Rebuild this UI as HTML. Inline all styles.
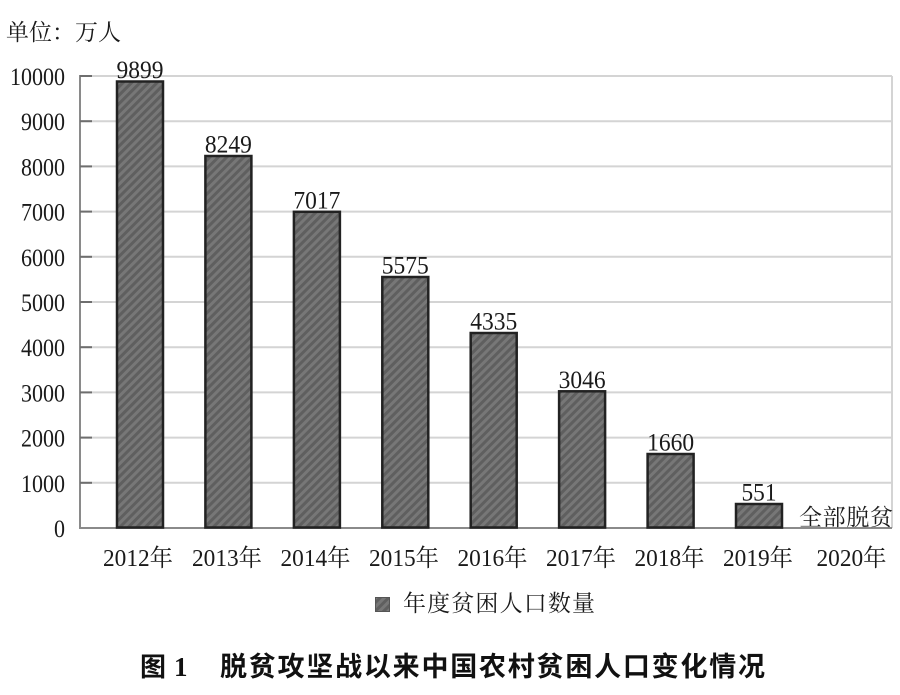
<!DOCTYPE html>
<html><head><meta charset="utf-8"><style>
html,body{margin:0;padding:0;background:#fff;width:900px;height:695px;overflow:hidden}
svg{display:block}
.s{font-family:"Liberation Serif","Noto Serif CJK SC",serif;fill:#1a1a1a}
.c{font-family:"Noto Serif CJK SC",serif;fill:#1a1a1a}
.h{font-family:"Liberation Sans","Noto Sans CJK SC",sans-serif;font-weight:bold;fill:#111}
</style></head><body>
<svg width="900" height="695" viewBox="0 0 900 695" xmlns="http://www.w3.org/2000/svg">
<defs>
<pattern id="st" patternUnits="userSpaceOnUse" width="6" height="6" patternTransform="rotate(45)">
<rect width="6" height="6" fill="#777"/>
<rect width="3" height="6" fill="#5f5f5f"/>
</pattern>
</defs>
<rect width="900" height="695" fill="#fff"/>
<text class="c" x="6" y="40" font-size="23">单位：万人</text>
<g stroke="#d4d4d4" stroke-width="2">
<line x1="80" y1="76" x2="892" y2="76"/>
<line x1="80" y1="121.2" x2="892" y2="121.2"/>
<line x1="80" y1="166.4" x2="892" y2="166.4"/>
<line x1="80" y1="211.6" x2="892" y2="211.6"/>
<line x1="80" y1="256.8" x2="892" y2="256.8"/>
<line x1="80" y1="302" x2="892" y2="302"/>
<line x1="80" y1="347.2" x2="892" y2="347.2"/>
<line x1="80" y1="392.4" x2="892" y2="392.4"/>
<line x1="80" y1="437.6" x2="892" y2="437.6"/>
<line x1="80" y1="482.8" x2="892" y2="482.8"/>
<line x1="892" y1="76" x2="892" y2="528"/>
</g>
<g stroke="#8a8a8a" stroke-width="2">
<line x1="80" y1="75" x2="80" y2="529"/>
<line x1="80" y1="528" x2="892" y2="528"/>
</g>
<g stroke="#6e6e6e" stroke-width="2">
<line x1="80" y1="76" x2="92" y2="76"/>
<line x1="80" y1="121.2" x2="92" y2="121.2"/>
<line x1="80" y1="166.4" x2="92" y2="166.4"/>
<line x1="80" y1="211.6" x2="92" y2="211.6"/>
<line x1="80" y1="256.8" x2="92" y2="256.8"/>
<line x1="80" y1="302" x2="92" y2="302"/>
<line x1="80" y1="347.2" x2="92" y2="347.2"/>
<line x1="80" y1="392.4" x2="92" y2="392.4"/>
<line x1="80" y1="437.6" x2="92" y2="437.6"/>
<line x1="80" y1="482.8" x2="92" y2="482.8"/>
</g>
<g class="s" font-size="25">
<text x="10" y="85" textLength="55" lengthAdjust="spacingAndGlyphs">10000</text>
<text x="21" y="130.2" textLength="44" lengthAdjust="spacingAndGlyphs">9000</text>
<text x="21" y="175.4" textLength="44" lengthAdjust="spacingAndGlyphs">8000</text>
<text x="21" y="220.6" textLength="44" lengthAdjust="spacingAndGlyphs">7000</text>
<text x="21" y="265.8" textLength="44" lengthAdjust="spacingAndGlyphs">6000</text>
<text x="21" y="311" textLength="44" lengthAdjust="spacingAndGlyphs">5000</text>
<text x="21" y="356.2" textLength="44" lengthAdjust="spacingAndGlyphs">4000</text>
<text x="21" y="401.4" textLength="44" lengthAdjust="spacingAndGlyphs">3000</text>
<text x="21" y="446.6" textLength="44" lengthAdjust="spacingAndGlyphs">2000</text>
<text x="21" y="491.8" textLength="44" lengthAdjust="spacingAndGlyphs">1000</text>
<text x="54" y="537" textLength="11" lengthAdjust="spacingAndGlyphs">0</text>
</g>
<g fill="url(#st)" stroke="#222" stroke-width="2.5">
<rect x="117" y="81.5" width="46" height="446"/>
<rect x="205.4" y="156" width="46" height="371.5"/>
<rect x="293.9" y="211.8" width="46" height="315.7"/>
<rect x="382.3" y="277" width="46" height="250.5"/>
<rect x="470.7" y="333" width="46" height="194.5"/>
<rect x="559.1" y="391.3" width="46" height="136.2"/>
<rect x="647.6" y="454" width="46" height="73.5"/>
<rect x="736" y="504" width="46" height="23.5"/>
</g>
<g class="s" font-size="25">
<text x="116.5" y="78" textLength="47" lengthAdjust="spacingAndGlyphs">9899</text>
<text x="204.9" y="152.5" textLength="47" lengthAdjust="spacingAndGlyphs">8249</text>
<text x="293.4" y="208.3" textLength="47" lengthAdjust="spacingAndGlyphs">7017</text>
<text x="381.8" y="273.5" textLength="47" lengthAdjust="spacingAndGlyphs">5575</text>
<text x="470.2" y="329.5" textLength="47" lengthAdjust="spacingAndGlyphs">4335</text>
<text x="558.6" y="387.8" textLength="47" lengthAdjust="spacingAndGlyphs">3046</text>
<text x="647.1" y="450.5" textLength="47" lengthAdjust="spacingAndGlyphs">1660</text>
<text x="741.5" y="500.5" textLength="35" lengthAdjust="spacingAndGlyphs">551</text>
</g>
<text class="s" x="799" y="525" font-size="23" textLength="94" lengthAdjust="spacing">全部脱贫</text>
<g class="s" font-size="24">
<text x="103" y="566" textLength="70" lengthAdjust="spacingAndGlyphs">2012年</text>
<text x="192" y="566" textLength="70" lengthAdjust="spacingAndGlyphs">2013年</text>
<text x="280.5" y="566" textLength="70" lengthAdjust="spacingAndGlyphs">2014年</text>
<text x="369" y="566" textLength="70" lengthAdjust="spacingAndGlyphs">2015年</text>
<text x="457.5" y="566" textLength="70" lengthAdjust="spacingAndGlyphs">2016年</text>
<text x="546" y="566" textLength="70" lengthAdjust="spacingAndGlyphs">2017年</text>
<text x="634.5" y="566" textLength="70" lengthAdjust="spacingAndGlyphs">2018年</text>
<text x="723" y="566" textLength="70" lengthAdjust="spacingAndGlyphs">2019年</text>
<text x="816.5" y="566" textLength="70" lengthAdjust="spacingAndGlyphs">2020年</text>
</g>
<rect x="375.5" y="597.5" width="14" height="14" fill="url(#st)" stroke="#555" stroke-width="1"/>
<text class="s" x="403" y="611" font-size="23" textLength="192" lengthAdjust="spacing">年度贫困人口数量</text>
<text class="h" x="140" y="676" font-size="26">图</text>
<text x="174" y="676" font-size="27" font-weight="bold" font-family="Liberation Serif, serif" fill="#111">1</text>
<text class="h" x="220" y="676" font-size="27" textLength="545" lengthAdjust="spacing">脱贫攻坚战以来中国农村贫困人口变化情况</text>
</svg>
</body></html>
